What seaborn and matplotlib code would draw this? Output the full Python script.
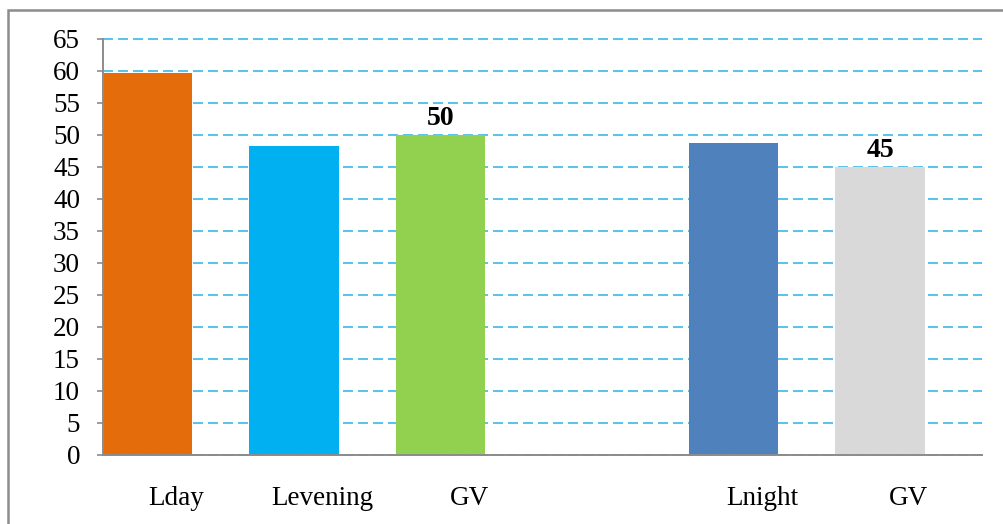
import numpy as np
import pandas as pd
import matplotlib
matplotlib.use("Agg")
import matplotlib.pyplot as plt
import matplotlib.patches as mpatches
import seaborn as sns

# Data
keys = ["Lday", "Levening", "GV_day", "gap", "Lnight", "GV_night"]
labels = ["Lday", "Levening", "GV", "", "Lnight", "GV"]
values = [59.7, 48.3, 50, np.nan, 48.8, 45]
colors = ["#E46C0A", "#00B0F0", "#92D050", "#FFFFFF", "#4F81BD", "#D9D9D9"]
annotated = {"GV_day": "50", "GV_night": "45"}

df = pd.DataFrame({"key": keys, "value": values})

sns.set_style("white")
plt.rcParams["font.family"] = ["Liberation Serif", "DejaVu Serif"]
plt.rcParams["text.color"] = "black"
plt.rcParams["xtick.color"] = "black"
plt.rcParams["ytick.color"] = "black"

fig = plt.figure(figsize=(10.04, 5.24), dpi=100)
ax = fig.add_axes([0.1026, 0.1317, 0.978 - 0.1026, 0.9256 - 0.1317])

bar_w = 0.61
sns.barplot(data=df, x="key", y="value", hue="key", order=keys, hue_order=keys,
            palette=dict(zip(keys, colors)), width=bar_w, dodge=False,
            legend=False, saturation=1, linewidth=0, ax=ax)

# value labels on the GV bars
for i, k in enumerate(keys):
    if k in annotated:
        ax.annotate(annotated[k], (i, values[i]), xytext=(0, 3),
                    textcoords="offset points", ha="center", va="bottom",
                    fontsize=20, fontweight="bold", color="black")

ax.set_ylim(0, 65)
ax.set_yticks(np.arange(0, 66, 5))
ax.set_xlim(-bar_w / 2, len(keys) - bar_w / 2)

# slot edges as major ticks, names at slot centres as minor ticks
edges = np.arange(len(keys) + 1) - bar_w / 2
centres = np.arange(len(keys)) + 0.5 - bar_w / 2
ax.set_xticks(edges)
ax.set_xticklabels([])
ax.set_xticks(centres, minor=True)
ax.set_xticklabels(labels, minor=True)
ax.tick_params(axis="x", which="major", length=4.5, width=1.2, color="#8C8C8C", direction="out")
ax.tick_params(axis="x", which="minor", length=0, pad=22.5, labelsize=19.5, labelcolor="black")
ax.tick_params(axis="y", length=4.5, width=1.2, color="#8C8C8C", direction="out",
               pad=12, labelsize=19.5, left=True, labelcolor="black")

ax.yaxis.grid(True, color="#3DB7E8", linestyle=(0, (6, 3)), linewidth=1.2)
for gl in ax.get_ygridlines():
    gl.set_clip_on(False)
ax.xaxis.grid(False)
ax.set_axisbelow(True)

for s in ["top", "right"]:
    ax.spines[s].set_visible(False)
for s in ["left", "bottom"]:
    ax.spines[s].set_color("#8C8C8C")
    ax.spines[s].set_linewidth(1.4)

ax.set_xlabel("")
ax.set_ylabel("")

# outer chart frame
fig.patches.append(mpatches.Rectangle((0.0075, -0.2), 1.2, 0.981 + 0.2,
                                      transform=fig.transFigure, fill=False,
                                      edgecolor="#8C8C8C", linewidth=1.8))

fig.savefig("out.png", dpi=100)
